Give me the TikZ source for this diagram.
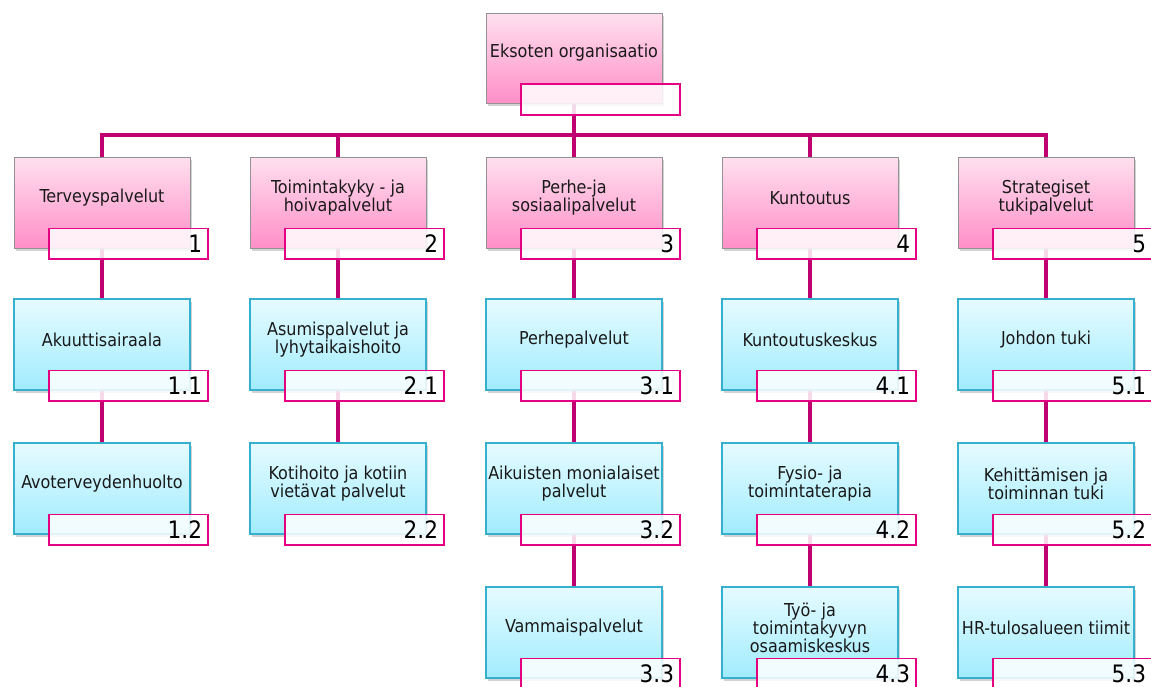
\documentclass[tikz,border=0pt]{standalone}
\usepackage{fontspec}
\setmainfont{DejaVu Sans Condensed}
\usetikzlibrary{shadows,backgrounds}
\definecolor{connc}{RGB}{192,0,112}
\definecolor{lblc}{RGB}{228,0,130}
\definecolor{pinkT}{RGB}{255,224,239}
\definecolor{pinkB}{RGB}{255,143,200}
\definecolor{blueT}{RGB}{230,251,255}
\definecolor{blueB}{RGB}{160,236,254}
\definecolor{blueD}{RGB}{55,176,208}
\tikzset{
  orgshape/.style={minimum width=176pt, minimum height=91pt, inner sep=0pt,
    drop shadow={opacity=0.35, shadow xshift=1.5pt, shadow yshift=-2.5pt}},
  pinkbox/.style={orgshape, draw=gray!85, line width=0.8pt, top color=pinkT, bottom color=pinkB},
  bluebox/.style={orgshape, draw=blueD, line width=1.4pt, top color=blueT, bottom color=blueB},
  txt/.style={font=\fontsize{17.8}{18}\selectfont, align=center, inner sep=0pt, text=black!90},
  lbl/.style={draw=lblc, line width=1.4pt, fill=white, fill opacity=0.85, text opacity=1,
    minimum height=30.5pt, text width=147pt, inner xsep=6pt, inner ysep=0pt, align=right,
    font=\fontsize{24}{26}\selectfont},
  conn/.style={draw=connc, line width=4.3pt}
}
\newcommand\orgbox[6]{%
  \node[#2] (#1) at (#3+88,#4+45.5) {};
  \node[txt] (#1t) at ([yshift=4.5pt]#1.center) {#5};
  \node[lbl] (#1l) at (#3+114.5,#4+86.75) {#6};
}
\begin{document}
\begin{tikzpicture}[x=1pt,y=-1pt]
\useasboundingbox (0,0) rectangle (1151,686);
\clip (0,0) rectangle (1151,686);
% top
\node[pinkbox, minimum height=90pt] (top) at (574,58) {};
\node[txt] (topt) at ([yshift=5pt]top.center) {Eksoten organisaatio};
\node[lbl, minimum height=31pt] (topl) at (600.5,99.5) {};
% column 1
\orgbox{a1}{pinkbox}{14}{157}{Terveyspalvelut}{1}
\orgbox{a2}{bluebox}{14}{299}{Akuuttisairaala}{1.1}
\orgbox{a3}{bluebox}{14}{443}{Avoterveydenhuolto}{1.2}
% column 2
\orgbox{b1}{pinkbox}{250}{157}{Toimintakyky - ja\\hoivapalvelut}{2}
\orgbox{b2}{bluebox}{250}{299}{Asumispalvelut ja\\lyhytaikaishoito}{2.1}
\orgbox{b3}{bluebox}{250}{443}{Kotihoito ja kotiin\\vietävat palvelut}{2.2}
% column 3
\orgbox{c1}{pinkbox}{486}{157}{Perhe-ja\\sosiaalipalvelut}{3}
\orgbox{c2}{bluebox}{486}{299}{Perhepalvelut}{3.1}
\orgbox{c3}{bluebox}{486}{443}{Aikuisten monialaiset\\palvelut}{3.2}
\orgbox{c4}{bluebox}{486}{587}{Vammaispalvelut}{3.3}
% column 4
\orgbox{d1}{pinkbox}{722}{157}{Kuntoutus}{4}
\orgbox{d2}{bluebox}{722}{299}{Kuntoutuskeskus}{4.1}
\orgbox{d3}{bluebox}{722}{443}{Fysio- ja\\toimintaterapia}{4.2}
\orgbox{d4}{bluebox}{722}{587}{Työ- ja\\toimintakyvyn\\osaamiskeskus}{4.3}
% column 5
\orgbox{e1}{pinkbox}{958}{157}{Strategiset\\tukipalvelut}{5}
\orgbox{e2}{bluebox}{958}{299}{Johdon tuki}{5.1}
\orgbox{e3}{bluebox}{958}{443}{Kehittämisen ja\\toiminnan tuki}{5.2}
\orgbox{e4}{bluebox}{958}{587}{HR-tulosalueen tiimit}{5.3}
% connectors
\begin{scope}[on background layer]
\coordinate (hub) at (574,135);
\draw[conn] (top.south) -- (hub);
\foreach \n in {a1,b1,c1,d1,e1} {\draw[conn] (hub) -| (\n.north);}
\draw[conn] (a1.south) -- (a2.north);
\draw[conn] (a2.south) -- (a3.north);
\draw[conn] (b1.south) -- (b2.north);
\draw[conn] (b2.south) -- (b3.north);
\draw[conn] (c1.south) -- (c2.north);
\draw[conn] (c2.south) -- (c3.north);
\draw[conn] (c3.south) -- (c4.north);
\draw[conn] (d1.south) -- (d2.north);
\draw[conn] (d2.south) -- (d3.north);
\draw[conn] (d3.south) -- (d4.north);
\draw[conn] (e1.south) -- (e2.north);
\draw[conn] (e2.south) -- (e3.north);
\draw[conn] (e3.south) -- (e4.north);
\end{scope}
\end{tikzpicture}
\end{document}
